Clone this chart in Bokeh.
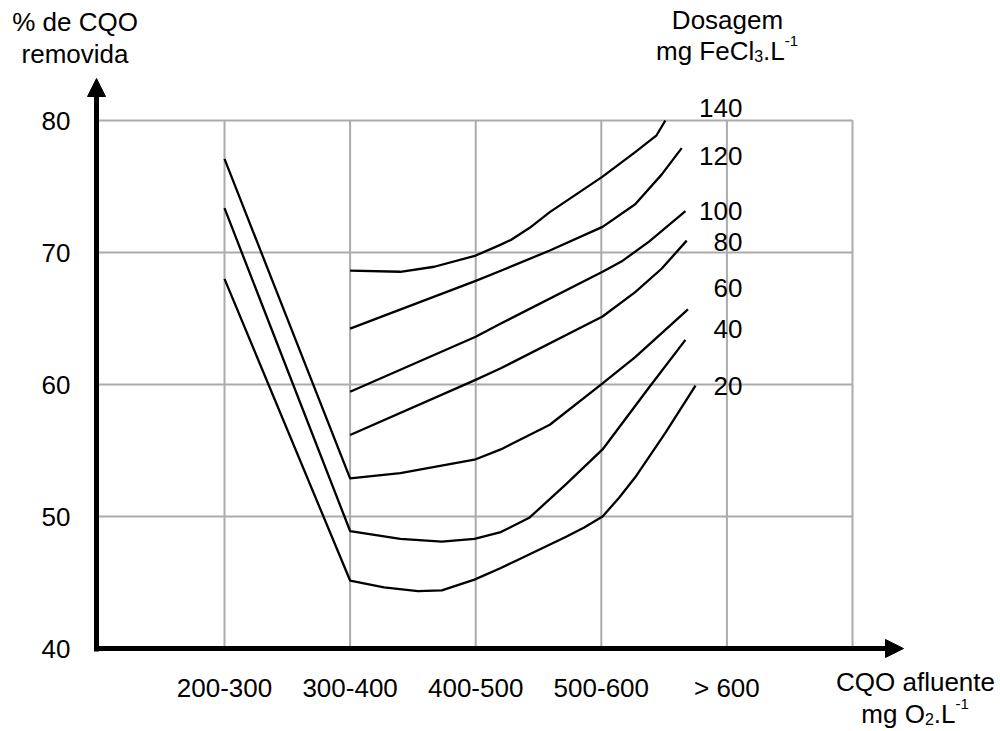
from bokeh.plotting import figure
from bokeh.models import Range1d, Label, Arrow, NormalHead
from bokeh.core.properties import value
from bokeh.embed import file_html
from bokeh.resources import INLINE

# ---------------- data ----------------
categories = ["200-300", "300-400", "400-500", "500-600", "> 600"]
cat_index = [1, 2, 3, 4, 5]
grid_x = [1, 2, 3, 4, 5, 6]
y_ticks = [40, 50, 60, 70, 80]
grid_y = [50, 60, 70, 80]

doses = ["140", "120", "100", "80", "60", "40", "20"]

x140 = [2.0, 2.40, 2.67, 3.0, 3.20, 3.28, 3.43, 3.59, 4.01, 4.27, 4.44, 4.51]
y140 = [68.62, 68.54, 68.92, 69.77, 70.60, 70.95, 71.87, 73.06, 75.75, 77.61, 78.88, 80.0]

x120 = [2.0, 3.0, 3.20, 3.59, 4.01, 4.27, 4.48, 4.64]
y120 = [64.23, 67.85, 68.62, 70.15, 71.94, 73.66, 75.90, 77.91]

x100 = [2.0, 3.0, 3.20, 4.01, 4.16, 4.38, 4.67]
y100 = [59.45, 63.62, 64.62, 68.54, 69.31, 70.82, 73.13]

x80 = [2.0, 2.99, 3.20, 4.01, 4.27, 4.48, 4.68]
y80 = [56.17, 60.31, 61.23, 65.15, 67.00, 68.77, 70.90]

x60 = [1.0, 2.0, 2.40, 2.99, 3.20, 3.59, 4.01, 4.27, 4.69]
y60 = [77.09, 52.89, 53.28, 54.30, 55.08, 56.95, 60.08, 62.08, 65.69]

x40 = [1.0, 2.0, 2.40, 2.73, 2.99, 3.20, 3.43, 3.72, 4.01, 4.38, 4.67]
y40 = [73.36, 48.90, 48.31, 48.09, 48.31, 48.82, 49.93, 52.45, 55.08, 59.77, 63.38]

x20 = [1.0, 2.0, 2.27, 2.54, 2.73, 2.99, 3.20, 3.33, 3.72, 3.86, 4.01, 4.14, 4.27, 4.51, 4.75]
y20 = [68.00, 45.15, 44.63, 44.34, 44.41, 45.22, 46.10, 46.69, 48.46, 49.15, 50.00, 51.40, 52.97, 56.33, 59.92]

series_x = [x140, x120, x100, x80, x60, x40, x20]
series_y = [y140, y120, y100, y80, y60, y40, y20]

# ---------------- layout helpers (picture px -> data) ----------------
W, H = 1000, 731

def dx(px):
    return 1 + (px - 224) / 125.6

def dy(py):
    return 80 - (py - 120) / 13.2

FONT = "Liberation Sans"
FS = "26px"
FS_SMALL = "16px"

p = figure(width=W, height=H, output_backend="svg", toolbar_location=None,
           x_range=Range1d(dx(0), dx(W)), y_range=Range1d(dy(H), dy(0)),
           min_border=0, min_border_left=0, min_border_right=0,
           min_border_top=0, min_border_bottom=0)
p.outline_line_color = None
p.grid.visible = False
p.xaxis.visible = False
p.yaxis.visible = False
p.background_fill_color = "white"
p.border_fill_color = "white"

# grid lines
GRID = "#ababab"
p.segment(x0=grid_x, y0=[y_ticks[0]] * len(grid_x), x1=grid_x, y1=[y_ticks[-1]] * len(grid_x),
          line_color=GRID, line_width=2)
p.segment(x0=[0] * len(grid_y), y0=grid_y, x1=[grid_x[-1]] * len(grid_y), y1=grid_y,
          line_color=GRID, line_width=2)

# curves
for xs, ys in zip(series_x, series_y):
    p.line(xs, ys, line_color="black", line_width=2.3, line_join="round")

# tick labels
p.text(x=[dx(70)] * len(y_ticks), y=y_ticks, text=[str(v) for v in y_ticks],
       text_align="right", text_baseline="middle", y_offset=0,
       text_font=value(FONT), text_font_size=FS, text_color="black")
p.text(x=cat_index, y=[dy(687)] * len(cat_index), text=categories,
       text_align="center", text_baseline="alphabetic",
       text_font=value(FONT), text_font_size=FS, text_color="black")

# curve labels
label_py = [107, 155, 210, 241, 287, 328, 385]
p.text(x=[dx(742)] * len(doses), y=[dy(v) for v in label_py], text=doses,
       text_align="right", text_baseline="alphabetic",
       text_font=value(FONT), text_font_size=FS, text_color="black")

# axis arrows
ax_x = dx(96)
p.add_layout(Arrow(end=NormalHead(size=18, fill_color="black", line_color="black", line_width=1),
                   x_start=ax_x, y_start=dy(651), x_end=ax_x, y_end=dy(78),
                   line_color="black", line_width=5))
p.add_layout(Arrow(end=NormalHead(size=18, fill_color="black", line_color="black", line_width=1),
                   x_start=dx(93.5), y_start=y_ticks[0], x_end=dx(903), y_end=y_ticks[0],
                   line_color="black", line_width=5))

def lab(text, px, py, align="left", size=FS):
    p.add_layout(Label(x=dx(px), y=dy(py), text=text, text_align=align,
                       text_baseline="alphabetic", text_font=FONT,
                       text_font_size=size, text_color="black"))

# y title
lab("% de CQO", 74.5, 21.5, "center")
lab("removida", 74.5, 53, "center")
# legend title
lab("Dosagem", 727, 19, "center")
lab("mg FeCl", 655.5, 50)
lab("3", 753.7, 55, size=FS_SMALL)
lab(".L", 762.6, 50)
lab("-1", 784.3, 40, size="15px")
# x title
lab("CQO afluente", 915, 681, "center")
lab("mg O", 860.8, 713)
lab("2", 924.4, 718, size=FS_SMALL)
lab(".L", 933.3, 713)
lab("-1", 955.0, 703, size="15px")

open("out.html", "w").write(file_html(p, INLINE))
